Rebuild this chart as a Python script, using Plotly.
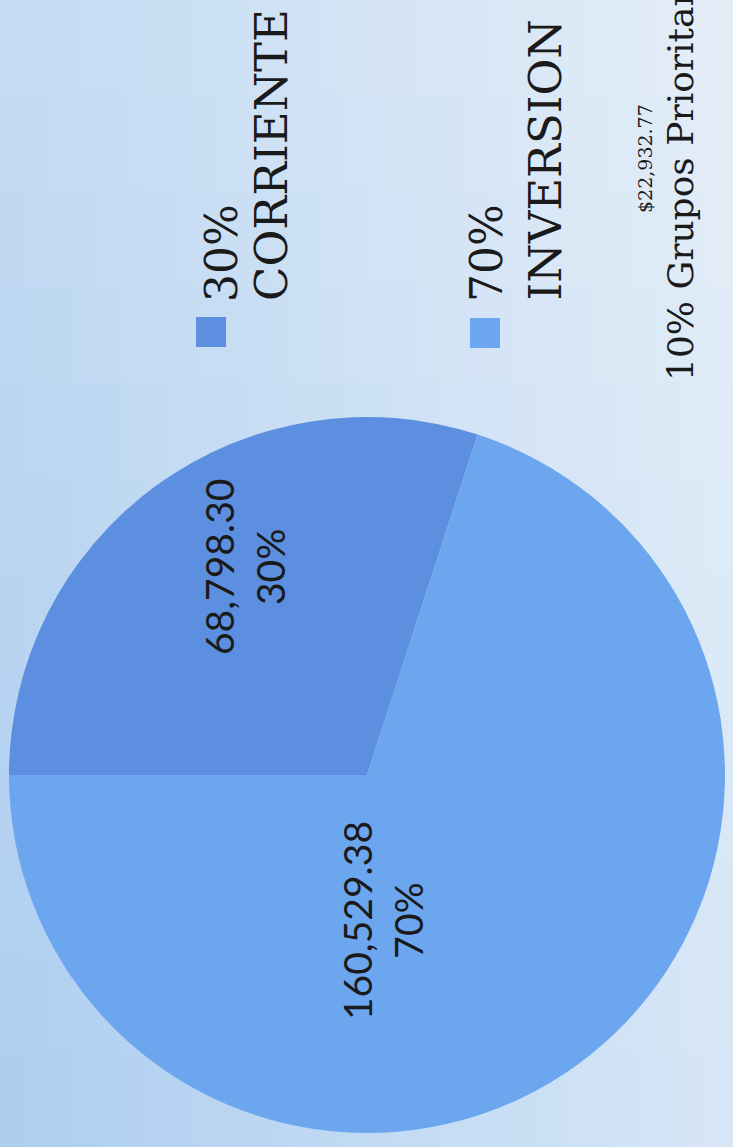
import plotly.graph_objects as go

W, H = 733, 1147

# ---------------- data ----------------
labels = ["CORRIENTE", "INVERSION"]
values = [68798.30, 160529.38]
colors = ["#5d8fe0", "#6ca6ee"]
grupos_label = "Grupos Prioritarios"
grupos_pct = 10

total = sum(values)
pcts = [round(v / total * 100) for v in values]
grupos_amount = total * grupos_pct / 100


def px(x):
    return x / W


def py(y):
    return 1 - y / H


fig = go.Figure()

# pie: centre (367, 775), radius 358 px
cx, cy, r = 367, 775, 358
fig.add_trace(go.Pie(
    labels=labels,
    values=values,
    sort=False,
    direction="clockwise",
    rotation=-90,
    marker=dict(colors=colors, line=dict(width=0)),
    textinfo="none",
    hoverinfo="label+value+percent",
    showlegend=False,
    domain=dict(x=[px(cx - r), px(cx + r)], y=[py(cy + r), py(cy - r)]),
))

# ---------------- background gradient ----------------
def hex2rgb(h):
    h = h.lstrip("#")
    return [int(h[i:i + 2], 16) for i in (0, 2, 4)]


TL, TR, BL, BR = map(hex2rgb, ["#c4dbf3", "#e4eef8", "#accdf0", "#d6e6f6"])
shapes = []
NX, NY = 30, 12
for i in range(NX):
    for j in range(NY):
        fx = (i + 0.5) / NX
        fy = (j + 0.5) / NY
        c = [round((TL[k] * (1 - fx) + TR[k] * fx) * (1 - fy) + (BL[k] * (1 - fx) + BR[k] * fx) * fy) for k in range(3)]
        shapes.append(dict(
            type="rect", xref="paper", yref="paper", layer="below",
            x0=i / NX, x1=(i + 1) / NX + 0.002, y0=1 - (j + 1) / NY - 0.002, y1=1 - j / NY,
            fillcolor=f"rgb({c[0]},{c[1]},{c[2]})", line=dict(width=0),
        ))

# legend swatches
swatches = [(196, 317), (470, 318)]
for (sx, sy), col in zip(swatches, colors):
    shapes.append(dict(
        type="rect", xref="paper", yref="paper",
        x0=px(sx), x1=px(sx + 30), y0=py(sy + 30), y1=py(sy),
        fillcolor=col, line=dict(width=0),
    ))

serif = "DejaVu Serif"
sans = "Lato"
annotations = []


def add_text(text, x, y, size, family, yanchor="middle", xanchor="center", align="center"):
    annotations.append(dict(
        text=text, x=px(x), y=py(y), xref="paper", yref="paper",
        xanchor=xanchor, yanchor=yanchor, align=align, textangle=-90,
        showarrow=False, font=dict(family=family, size=size, color="#1a1a1a"),
    ))


# legend texts
legend_pos = [(221, 271), (486, 545)]
for lab, p, (xp, xl) in zip(labels, pcts, legend_pos):
    add_text(f"{p}%", xp, 304, 44, serif, yanchor="bottom")
    add_text(lab, xl, 303, 45, serif, yanchor="bottom")

# slice labels
slice_pos = [(244, 567), (382, 921)]
for v, p, (x, y) in zip(values, pcts, slice_pos):
    add_text(f"{v:,.2f}<br>{p}%", x, y, 39, sans)

# priority groups note
add_text(f"${grupos_amount:,.2f}", 645, 159, 19, serif)
add_text(f"{grupos_pct}% {grupos_label}", 681, 160, 36, serif)

fig.update_layout(
    width=W, height=H,
    margin=dict(l=0, r=0, t=0, b=0),
    paper_bgcolor="#cfe2f5",
    plot_bgcolor="rgba(0,0,0,0)",
    shapes=shapes,
    annotations=annotations,
    showlegend=False,
)

fig.write_html(
    "out.html",
    config={"displayModeBar": False},
    post_script="document.body.style.margin='0';document.body.style.overflow='hidden';",
)
